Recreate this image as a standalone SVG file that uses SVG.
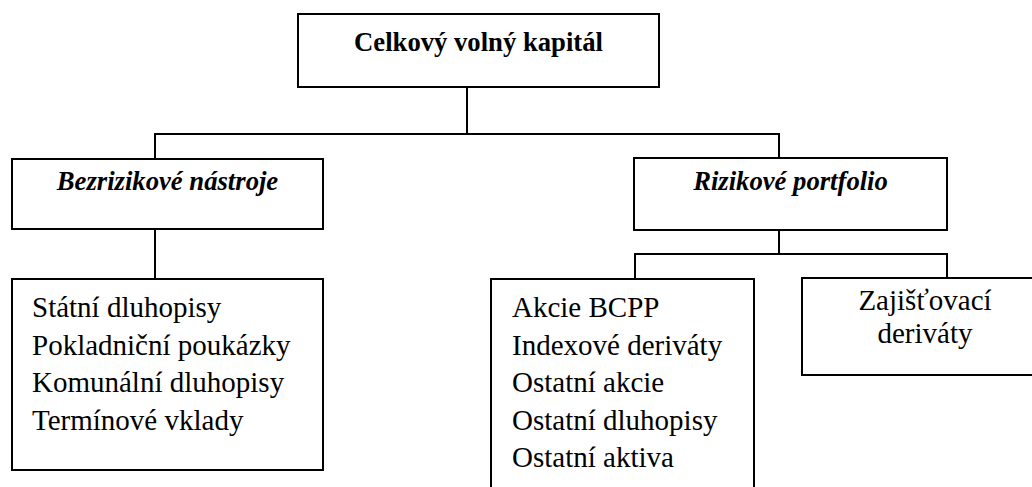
<svg xmlns="http://www.w3.org/2000/svg" width="1032" height="487" viewBox="0 0 1032 487">
<style>
.box{fill:#fff;stroke:#000;stroke-width:2}
.ln{fill:none;stroke:#000;stroke-width:2}
.t{font-family:'Liberation Serif','Times New Roman',serif;fill:#000}
.b{font-weight:bold;font-size:26.67px}
.bi{font-weight:bold;font-style:italic;font-size:26.67px}
.r{font-size:29px}
</style>
<rect width="1032" height="487" fill="#fff"/>
<g id="connectors">
<polyline class="ln" points="467,87 467,134"/>
<polyline class="ln" points="155,159 155,134 779,134 779,158"/>
<polyline class="ln" points="155,229 155,279"/>
<polyline class="ln" points="779,230 779,254"/>
<polyline class="ln" points="635,279 635,254 947,254 947,278"/>
</g>
<g id="n-celkovy">
<rect class="box" x="298" y="14" width="361" height="73"/>
<text class="t b" x="478.5" y="51" text-anchor="middle">Celkový volný kapitál</text>
</g>
<g id="n-bezrizikove">
<rect class="box" x="12" y="159" width="311" height="70"/>
<text class="t bi" x="167.5" y="190" text-anchor="middle">Bezrizikové nástroje</text>
</g>
<g id="n-rizikove">
<rect class="box" x="634" y="158" width="313" height="72"/>
<text class="t bi" x="790.5" y="190" text-anchor="middle">Rizikové portfolio</text>
</g>
<g id="n-bezriz-list">
<rect class="box" x="12" y="279" width="311" height="191"/>
<text class="t r" x="32" y="317">Státní dluhopisy</text>
<text class="t r" x="32" y="355">Pokladniční poukázky</text>
<text class="t r" x="32" y="392">Komunální dluhopisy</text>
<text class="t r" x="32" y="430">Termínové vklady</text>
</g>
<g id="n-riz-list">
<rect class="box" x="491" y="279" width="263" height="220"/>
<text class="t r" x="512" y="317">Akcie BCPP</text>
<text class="t r" x="512" y="354.5">Indexové deriváty</text>
<text class="t r" x="512" y="392">Ostatní akcie</text>
<text class="t r" x="512" y="429.5">Ostatní dluhopisy</text>
<text class="t r" x="512" y="467">Ostatní aktiva</text>
</g>
<g id="n-zajistovaci">
<rect class="box" x="802" y="278" width="246" height="97"/>
<text class="t r" x="925" y="310" text-anchor="middle">Zajišťovací</text>
<text class="t r" x="925" y="343" text-anchor="middle">deriváty</text>
</g>
</svg>
